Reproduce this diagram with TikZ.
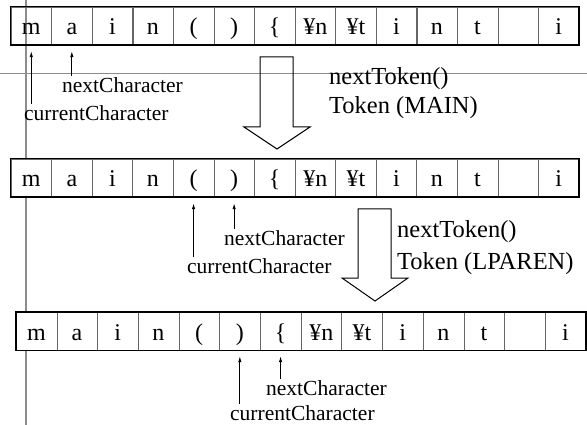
\documentclass[tikz,border=0pt]{standalone}
\usepackage{fontspec}
\setmainfont{Liberation Serif}
\usetikzlibrary{arrows.meta}
\usetikzlibrary{positioning}
\tikzset{>={Latex[length=6pt,width=3.5pt]}}
\tikzstyle{cell} = [rectangle, draw=black!60, fill=white, minimum width=40.6pt, minimum height=38pt, inner sep=0pt, text height=24pt, text depth=6pt, font=\fontsize{24}{28}\selectfont]
\tikzstyle{lbl} = [draw=none, inner sep=1pt, anchor=west, font=\fontsize{21.5}{24}\selectfont]
\tikzstyle{toklbl} = [draw=none, inner sep=0pt, anchor=west, font=\fontsize{24.5}{28}\selectfont]
\tikzstyle{ptr} = [->, line width=0.9pt, shorten >=6pt]
\tikzstyle{guide} = [draw=black!45]
\tikzstyle{bigarrow} = [draw=black, line width=1pt, line join=miter]

\begin{document}
\begin{tikzpicture}[x=1pt, y=-1pt]
\useasboundingbox (0,0) rectangle (587,425);
% guide lines
\draw [guide, line width=2.5pt] (26,0) -- (26,425);
\draw [guide, line width=1pt] (0,74) -- (587,74);

% first state
\foreach \c [count=\i] in {m,a,i,n,{(},{)},\{,¥n,¥t,i,n,t,{},i}
  \node [cell, fill=none] (a\i) at ({11+(\i-0.5)*40.57}, 26) {\c};
\draw [line width=1.4pt] (a1.north west) rectangle (a14.south east);
\node [lbl] (anext) at (61,85) {nextCharacter};
\node [lbl] (acur) at (23,113) {currentCharacter};
\draw [ptr] (a2.south |- anext.north) -- (a2.south);
\draw [ptr] (a1.south |- acur.north) -- (a1.south);

\draw [bigarrow] (260,57) -- (293,57) -- (293,127) -- (310,127) -- (277,149) -- (244,127) -- (260,127) -- cycle;
\node [toklbl] (tok1) at (329,79) {nextToken()};
\node [toklbl] (main) at (329,108) {Token (MAIN)};

% second state
\foreach \c [count=\i] in {m,a,i,n,{(},{)},\{,¥n,¥t,i,n,t,{},i}
  \node [cell] (b\i) at ({11+(\i-0.5)*40.57}, 178) {\c};
\draw [line width=1.4pt] (b1.north west) rectangle (b14.south east);
\node [lbl] (bnext) at (223,238) {nextCharacter};
\node [lbl] (bcur) at (186,266) {currentCharacter};
\draw [ptr] (b6.south |- bnext.north) -- (b6.south);
\draw [ptr] (b5.south |- bcur.north) -- (b5.south);

\draw [bigarrow] (358,209) -- (391,209) -- (391,278) -- (408,278) -- (375,301) -- (342,278) -- (358,278) -- cycle;
\node [toklbl] (tok2) at (397,232) {nextToken()};
\node [toklbl] (lparen) at (397,264) {Token (LPAREN)};

% third state
\foreach \c [count=\i] in {m,a,i,n,{(},{)},\{,¥n,¥t,i,n,t,{},i}
  \node [cell, minimum width=40.7pt] (c\i) at ({16+(\i-0.5)*40.7}, 331) {\c};
\draw [line width=1.4pt] (c1.north west) rectangle (c14.south east);
\node [lbl] (cnext) at (265,388) {nextCharacter};
\node [lbl] (ccur) at (229,413) {currentCharacter};
\draw [ptr] (c7.south |- cnext.north) -- (c7.south);
\draw [ptr] (c6.south |- ccur.north) -- (c6.south);
\end{tikzpicture}
\end{document}
